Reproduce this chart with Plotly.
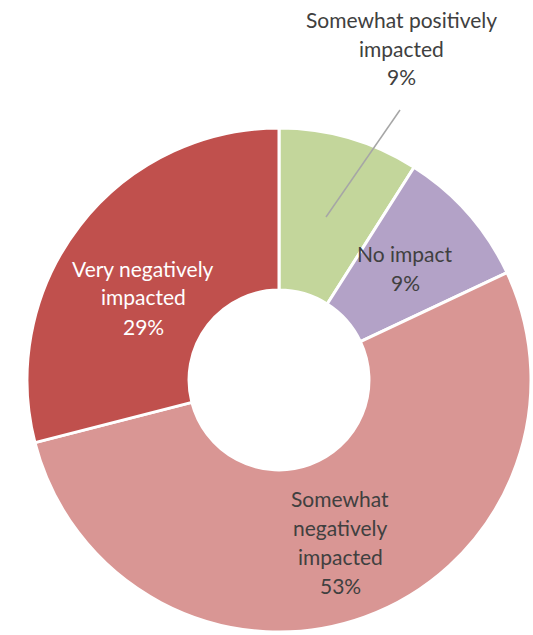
import plotly.graph_objects as go

labels = ["Somewhat positively impacted", "No impact", "Somewhat negatively impacted", "Very negatively impacted"]
values = [9, 9, 53, 29]
colors = ["#C3D69B", "#B3A2C7", "#D99694", "#C0504D"]
label_lines = [["Somewhat positively", "impacted"], ["No impact"], ["Somewhat", "negatively", "impacted"], ["Very negatively", "impacted"]]
text_colors = ["#404040", "#404040", "#404040", "#FFFFFF"]
# label centre (x px, first-line y px) for each slice
label_pos = [(401, 19), (405, 253), (340, 498), (143, 268)]

W, H = 533, 635
cx, cy, R = 279, 380, 252

fig = go.Figure(go.Pie(
    labels=labels, values=values, sort=False, direction="clockwise", rotation=0,
    hole=0.357, textinfo="none", hoverinfo="label+percent",
    marker=dict(colors=colors, line=dict(color="white", width=3)),
    domain=dict(x=[(cx - R) / W, (cx + R) / W], y=[1 - (cy + R) / H, 1 - (cy - R) / H]),
))

total = sum(values)
LH = 29
for lines, v, col, (x, y0) in zip(label_lines, values, text_colors, label_pos):
    allines = lines + [f"{round(100 * v / total)}%"]
    for i, t in enumerate(allines):
        fig.add_annotation(x=x / W, y=1 - (y0 + i * LH) / H, xref="paper", yref="paper",
                           text=t, showarrow=False, xanchor="center", yanchor="middle",
                           font=dict(family="Lato", size=21, color=col))

fig.add_shape(type="line", xref="paper", yref="paper",
              x0=400 / W, y0=1 - 110 / H, x1=326 / W, y1=1 - 217 / H,
              line=dict(color="#A6A6A6", width=1.5))

fig.update_layout(width=W, height=H, margin=dict(l=0, r=0, t=0, b=0),
                  showlegend=False, paper_bgcolor="white", plot_bgcolor="white")
fig.write_html("out.html")
